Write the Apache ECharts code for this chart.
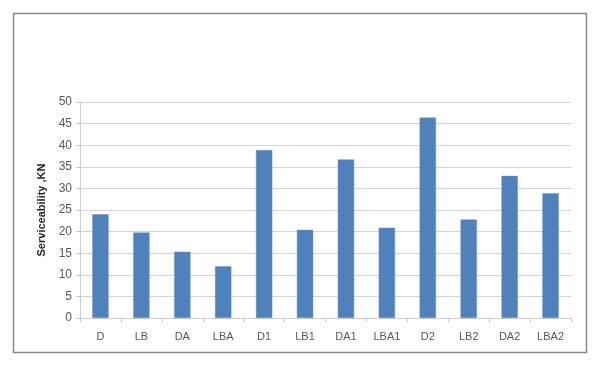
<!DOCTYPE html>
<html>
<head>
<meta charset="utf-8">
<script src="https://cdn.jsdelivr.net/npm/echarts@6/dist/echarts.min.js"></script>
<style>
  html, body { margin: 0; padding: 0; background: #fff; }
  #chart { width: 599px; height: 366px; }
</style>
</head>
<body>
<div id="chart"></div>
<script>
const categories = ['D', 'LB', 'DA', 'LBA', 'D1', 'LB1', 'DA1', 'LBA1', 'D2', 'LB2', 'DA2', 'LBA2'];
const serviceability = [24.0, 19.8, 15.35, 12.0, 38.9, 20.4, 36.7, 20.9, 46.4, 22.8, 32.9, 28.9];
const yTicks = { min: 0, max: 50, interval: 5 };

var myChart = echarts.init(document.getElementById('chart'));
var option = {
    animation: false,
    backgroundColor: '#fff',
    graphic: [{
        type: 'rect',
        shape: { x: 13.5, y: 13.5, width: 573, height: 339 },
        style: { fill: 'none', stroke: '#8a8a8a', lineWidth: 1.5 },
        z: 100
    }],
    grid: { left: 80, right: 28, top: 102, bottom: 48 },
    xAxis: {
        type: 'category',
        data: categories,
        axisLine: { lineStyle: { color: '#d0d0d0', width: 1 } },
        axisTick: { show: true, length: 4, lineStyle: { color: '#c8c8c8' } },
        axisLabel: { color: '#595959', fontSize: 11, margin: 13, fontFamily: 'Liberation Sans, Arial, sans-serif' }
    },
    yAxis: {
        type: 'value',
        min: yTicks.min,
        max: yTicks.max,
        interval: yTicks.interval,
        name: 'Serviceability ,KN',
        nameLocation: 'middle',
        nameGap: 32,
        nameTextStyle: { color: '#262626', fontSize: 11, fontWeight: 'bold', fontFamily: 'Liberation Sans, Arial, sans-serif' },
        axisLine: { show: true, lineStyle: { color: '#d0d0d0' } },
        axisTick: { show: true, length: 4, lineStyle: { color: '#c8c8c8' } },
        axisLabel: { color: '#595959', fontSize: 12, margin: 8, fontFamily: 'Liberation Sans, Arial, sans-serif' },
        splitLine: { lineStyle: { color: '#d4d4d4', width: 1.2 } }
    },
    series: [{
        type: 'bar',
        data: serviceability,
        barWidth: '40%',
        itemStyle: { color: '#4f81bd', borderColor: '#6b96cb', borderWidth: 0.5 }
    }]
};
myChart.setOption(option);
</script>
</body>
</html>
